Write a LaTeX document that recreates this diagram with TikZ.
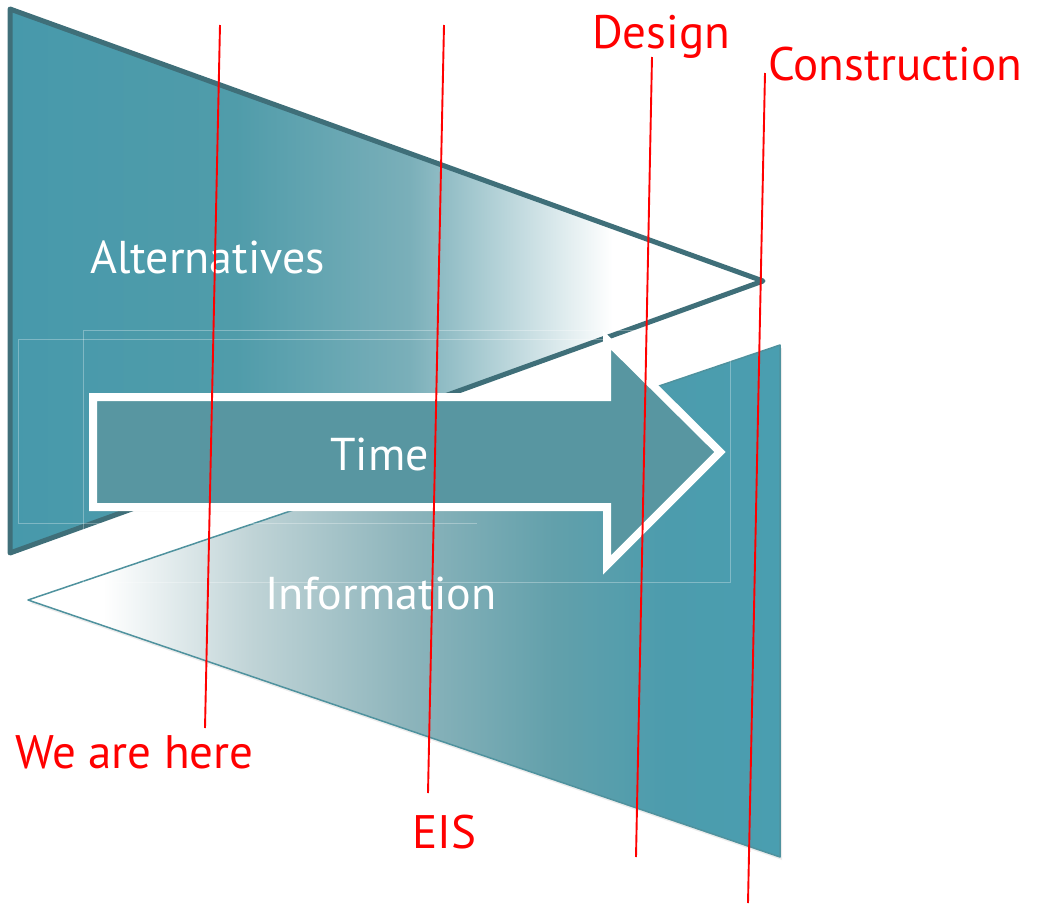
\documentclass[tikz,border=0pt]{standalone}
\usepackage{fontspec}
\setmainfont{PT Sans}
\usetikzlibrary{shadows}
\definecolor{tealA}{HTML}{4799AB}
\definecolor{tealB}{HTML}{509CAA}
\definecolor{tealC}{HTML}{7AAFB9}
\definecolor{tealD}{HTML}{BFD3D6}
\definecolor{tealE}{HTML}{8EB5BC}
\definecolor{tealF}{HTML}{62A0AB}
\definecolor{tealG}{HTML}{4C9CAD}
\definecolor{tealH}{HTML}{4A9EB0}
\definecolor{altedge}{HTML}{3F6F79}
\definecolor{infoedge}{HTML}{4F929E}
\definecolor{arrowfill}{HTML}{5896A1}
\pgfdeclarehorizontalshading{altshade}{100bp}{color(0bp)=(tealA); color(25bp)=(tealA); color(40bp)=(tealB); color(51.5bp)=(tealC); color(65bp)=(white); color(100bp)=(white)}
\pgfdeclarehorizontalshading{infoshade}{100bp}{color(0bp)=(white); color(30bp)=(white); color(40bp)=(tealD); color(50bp)=(tealE); color(60bp)=(tealF); color(67.5bp)=(tealG); color(75bp)=(tealH); color(100bp)=(tealH)}
\begin{document}
\begin{tikzpicture}[x=1pt,y=-1pt,
  redlab/.style={text=red, font=\fontsize{47}{51}\selectfont, inner sep=0pt},
  whitelab/.style={text=white, font=\fontsize{46}{50}\selectfont, inner sep=0pt},
  redline/.style={draw=red, line width=1.9pt},
  faint/.style={draw=white, draw opacity=0.3, line width=0.8pt}]
\useasboundingbox (0,0) rectangle (1037,905);
% Information triangle
\shadedraw[shading=infoshade, draw=infoedge, line width=1.5pt, line join=round,
  drop shadow={shadow xshift=2pt, shadow yshift=-3pt, opacity=0.15}]
  (28,600) -- (780,345) -- (780,857) -- cycle;
% Alternatives triangle
\shadedraw[shading=altshade, draw=altedge, line width=5pt, line join=round]
  (10,9) -- (763,281) -- (10,553) -- cycle;
% faint text box outlines
\draw[faint] (83,330) rectangle (730,582);
\draw[faint] (477,523) -- (18,523) -- (18,339) -- (607,339);
% Time arrow
\filldraw[fill=arrowfill, draw=white, line width=8pt, line join=miter,
  drop shadow={shadow xshift=1pt, shadow yshift=-4pt, opacity=0.3}]
  (93,397) -- (607,397) -- (607,340) -- (720,452) -- (607,565) -- (607,507) -- (93,507) -- cycle;
% white labels
\node[whitelab, anchor=base west] (alt) at (90,273) {Alternatives};
\node[whitelab, anchor=base west] (time) at (330,470) {Time};
\node[whitelab, anchor=base west] (info) at (265,609) {Information};
% red labels
\node[redlab, anchor=base west] (here) at (15,768) {We are here};
\node[redlab, anchor=base west] (eis) at (412,848) {EIS};
\node[redlab, anchor=base west] (design) at (592,48) {Design};
\node[redlab, anchor=base west] (constr) at (768,80) {Construction};
% red lines
\coordinate (l1a) at (220,25);
\coordinate (l1b) at (205,728);
\coordinate (l2a) at (444,25);
\coordinate (l2b) at (428,793);
\coordinate (l3a) at (652,57);
\coordinate (l3b) at (636,857);
\coordinate (l4a) at (765,73);
\coordinate (l4b) at (748,903);
\draw[redline] (l1a) -- (l1b);
\draw[redline] (l2a) -- (l2b);
\draw[redline] (l3a) -- (l3b);
\draw[redline] (l4a) -- (l4b);
\end{tikzpicture}
\end{document}
